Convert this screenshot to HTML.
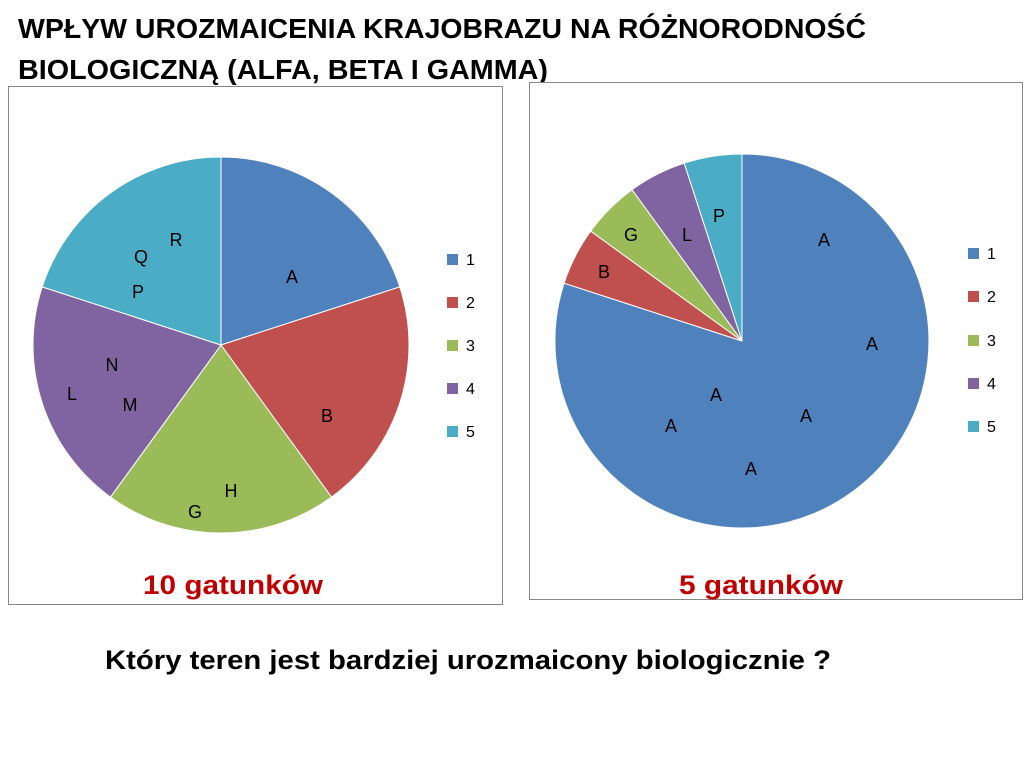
<!DOCTYPE html>
<html><head><meta charset="utf-8"><style>body{margin:0;background:#fff}svg{display:block}</style></head><body>
<svg width="1024" height="768" xmlns="http://www.w3.org/2000/svg" font-family="Liberation Sans, sans-serif">
<text x="18" y="38" font-size="28" font-weight="bold" textLength="848" lengthAdjust="spacingAndGlyphs">WPŁYW UROZMAICENIA KRAJOBRAZU NA RÓŻNORODNOŚĆ</text>
<text x="18" y="79" font-size="28" font-weight="bold" textLength="530" lengthAdjust="spacingAndGlyphs">BIOLOGICZNĄ (ALFA, BETA I GAMMA)</text>
<rect x="8.5" y="86.5" width="494" height="518" fill="#fff" stroke="#888"/>
<rect x="529.5" y="82.5" width="493" height="517" fill="#fff" stroke="#888"/>
<g stroke="#fff" stroke-width="1">
<path d="M221,345 L221,157 A188,188 0 0 1 399.8,286.9 Z" fill="#4F81BD"/>
<path d="M221,345 L399.8,286.9 A188,188 0 0 1 331.5,497.1 Z" fill="#C0504D"/>
<path d="M221,345 L331.5,497.1 A188,188 0 0 1 110.5,497.1 Z" fill="#9BBB59"/>
<path d="M221,345 L110.5,497.1 A188,188 0 0 1 42.2,286.9 Z" fill="#8064A2"/>
<path d="M221,345 L42.2,286.9 A188,188 0 0 1 221,157 Z" fill="#4BACC6"/>
<path d="M742,341 L742,154 A187,187 0 1 1 564.1,283.2 Z" fill="#4F81BD"/>
<path d="M742,341 L564.1,283.2 A187,187 0 0 1 590.7,231.1 Z" fill="#C0504D"/>
<path d="M742,341 L590.7,231.1 A187,187 0 0 1 632.1,189.7 Z" fill="#9BBB59"/>
<path d="M742,341 L632.1,189.7 A187,187 0 0 1 684.2,163.2 Z" fill="#8064A2"/>
<path d="M742,341 L684.2,163.2 A187,187 0 0 1 742,154 Z" fill="#4BACC6"/>
</g>
<g font-size="18" text-anchor="middle" fill="#000">
<text x="292" y="283">A</text><text x="327" y="422">B</text>
<text x="231" y="497">H</text><text x="195" y="518">G</text>
<text x="112" y="371">N</text><text x="72" y="400">L</text><text x="130" y="411">M</text>
<text x="176" y="246">R</text><text x="141" y="263">Q</text><text x="138" y="298">P</text>
<text x="824" y="246">A</text><text x="872" y="350">A</text><text x="716" y="401">A</text>
<text x="806" y="422">A</text><text x="671" y="432">A</text><text x="751" y="475">A</text>
<text x="604" y="278">B</text><text x="631" y="241">G</text><text x="687" y="241">L</text><text x="719" y="222">P</text>
</g>
<g font-size="16">
<rect x="447" y="254" width="11" height="11" fill="#4F81BD"/><text x="466" y="265">1</text>
<rect x="447" y="297" width="11" height="11" fill="#C0504D"/><text x="466" y="308">2</text>
<rect x="447" y="340" width="11" height="11" fill="#9BBB59"/><text x="466" y="351">3</text>
<rect x="447" y="383" width="11" height="11" fill="#8064A2"/><text x="466" y="394">4</text>
<rect x="447" y="426" width="11" height="11" fill="#4BACC6"/><text x="466" y="437">5</text>
<rect x="968" y="248" width="11" height="11" fill="#4F81BD"/><text x="987" y="259">1</text>
<rect x="968" y="291" width="11" height="11" fill="#C0504D"/><text x="987" y="302">2</text>
<rect x="968" y="335" width="11" height="11" fill="#9BBB59"/><text x="987" y="346">3</text>
<rect x="968" y="378" width="11" height="11" fill="#8064A2"/><text x="987" y="389">4</text>
<rect x="968" y="421" width="11" height="11" fill="#4BACC6"/><text x="987" y="432">5</text>
</g>
<text x="143" y="594" font-size="27" font-weight="bold" fill="#C00000" textLength="180" lengthAdjust="spacingAndGlyphs">10 gatunków</text>
<text x="679" y="594" font-size="27" font-weight="bold" fill="#C00000" textLength="164" lengthAdjust="spacingAndGlyphs">5 gatunków</text>
<text x="105" y="669" font-size="27" font-weight="bold" textLength="726" lengthAdjust="spacingAndGlyphs">Który teren jest bardziej urozmaicony biologicznie ?</text>
</svg>
</body></html>
